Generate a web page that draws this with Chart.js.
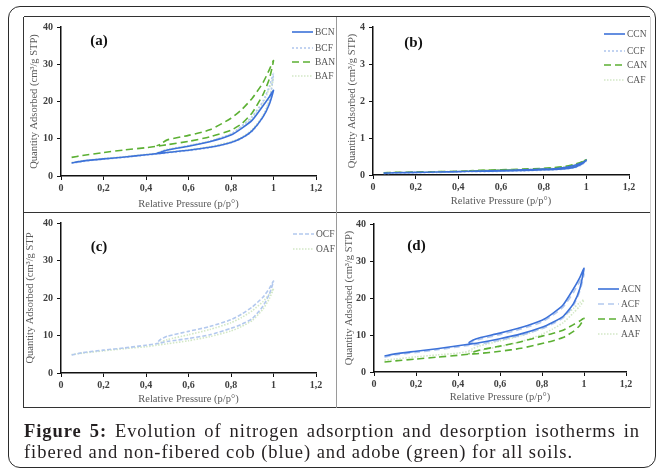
<!DOCTYPE html>
<html>
<head>
<meta charset="utf-8">
<script src="https://cdn.jsdelivr.net/npm/chart.js@4"></script>
<style>
  html, body { margin: 0; padding: 0; background: #fff; }
  body { width: 659px; height: 472px; position: relative; overflow: hidden; font-family: 'Liberation Serif', serif; }
  #frame { position: absolute; left: 8px; top: 6px; width: 646px; height: 460px; border: 1.5px solid #2b2b2b; border-radius: 12px; }
  .cell { position: absolute; }
  .cell canvas { display: block; }
  .hl { position: absolute; height: 0; border-top: 1.5px solid #333; }
  .vl { position: absolute; width: 0; border-left: 1.5px solid #333; }
  .cap { position: absolute; left: 24px; font-size: 18.5px; letter-spacing: 0.95px; color: #231f20; white-space: nowrap; }
</style>
</head>
<body>
<div id="frame"></div>
<div class="cell" style="left:24px;top:17px;width:313px;height:196px"><canvas id="pa" width="313" height="196"></canvas></div>
<div class="cell" style="left:337px;top:17px;width:313px;height:196px"><canvas id="pb" width="313" height="196"></canvas></div>
<div class="cell" style="left:24px;top:213px;width:313px;height:195px"><canvas id="pc" width="313" height="195"></canvas></div>
<div class="cell" style="left:337px;top:213px;width:313px;height:195px"><canvas id="pd" width="313" height="195"></canvas></div>
<div class="hl" style="left:24px;top:16px;width:626px"></div>
<div class="hl" style="left:24px;top:212px;width:626px"></div>
<div class="hl" style="left:24px;top:407px;width:626px"></div>
<div class="vl" style="left:23px;top:17px;height:391px"></div>
<div class="vl" style="left:336px;top:17px;height:391px;border-color:#9a9a9a"></div>
<div class="vl" style="left:650px;top:17px;height:391px;border-color:#d0d0d0;border-left-width:1px"></div>
<div class="cap" style="top:421px;width:616px;text-align:justify;text-align-last:justify"><b>Figure 5:</b> Evolution of nitrogen adsorption and desorption isotherms in</div>
<div class="cap" style="top:442px">fibered and non-fibered cob (blue) and adobe (green) for all soils.</div>
<script>
// relative pressure grid: adsorption going up, desorption coming back down
const P_ADS = [0.05, 0.1, 0.2, 0.3, 0.4, 0.45, 0.5, 0.6, 0.7, 0.8, 0.85, 0.9, 0.95, 0.98, 1.0];
const P_DES = [0.98, 0.95, 0.9, 0.85, 0.8, 0.7, 0.6, 0.5, 0.47, 0.45];
const X_TICK_LABELS = ['0', '0,2', '0,4', '0,6', '0,8', '1', '1,2'];

// (a) cob / adobe B
const BCN_ADS = [3.5, 4.0, 4.6, 5.1, 5.7, 6.0, 6.3, 6.9, 7.7, 9.0, 10.2, 12.2, 15.8, 19.2, 23.0];
const BCN_DES = [21.2, 18.8, 15.0, 12.8, 11.0, 9.2, 8.0, 7.0, 6.4, 6.1];
const BCF_ADS = [3.4, 3.9, 4.5, 5.0, 5.6, 5.9, 6.2, 6.8, 7.6, 8.9, 10.1, 12.0, 15.8, 20.0, 27.5];
const BCF_DES = [24.0, 20.0, 16.0, 13.4, 11.3, 9.3, 8.1, 7.0, 6.4, 6.0];
const BAN_ADS = [5.0, 5.5, 6.3, 7.0, 7.6, 8.0, 8.4, 9.3, 10.5, 12.3, 14.0, 17.0, 21.8, 26.0, 31.0];
const BAN_DES = [28.5, 25.0, 20.9, 17.8, 15.5, 12.4, 10.9, 9.7, 8.6, 8.1];
const BAF_ADS = [3.6, 4.1, 4.7, 5.2, 5.8, 6.1, 6.4, 7.0, 7.9, 9.2, 10.4, 12.5, 16.2, 20.5, 26.5];
const BAF_DES = [23.5, 19.5, 15.6, 13.2, 11.3, 9.4, 8.2, 7.2, 6.6, 6.2];

// (b) soil C
const CCN_ADS = [0.05, 0.06, 0.07, 0.08, 0.09, 0.1, 0.1, 0.11, 0.12, 0.14, 0.15, 0.17, 0.22, 0.3, 0.4];
const CCN_DES = [0.33, 0.27, 0.2, 0.17, 0.16, 0.14, 0.12, 0.11, 0.1, 0.1];
const CCF_ADS = [0.04, 0.05, 0.06, 0.07, 0.08, 0.09, 0.09, 0.1, 0.11, 0.13, 0.14, 0.16, 0.2, 0.28, 0.38];
const CCF_DES = [0.31, 0.25, 0.19, 0.16, 0.15, 0.13, 0.11, 0.1, 0.09, 0.09];
const CAN_ADS = [0.06, 0.07, 0.08, 0.09, 0.1, 0.11, 0.12, 0.13, 0.14, 0.16, 0.17, 0.2, 0.25, 0.33, 0.43];
const CAN_DES = [0.36, 0.3, 0.23, 0.2, 0.18, 0.16, 0.14, 0.13, 0.12, 0.11];
const CAF_ADS = [0.06, 0.07, 0.08, 0.09, 0.1, 0.1, 0.11, 0.12, 0.13, 0.15, 0.16, 0.19, 0.24, 0.32, 0.41];
const CAF_DES = [0.35, 0.29, 0.22, 0.19, 0.17, 0.15, 0.13, 0.12, 0.11, 0.1];

// (c) soil O
const OCF_ADS = [4.8, 5.4, 6.1, 6.7, 7.4, 7.8, 8.4, 9.2, 10.2, 11.9, 13.0, 14.5, 17.8, 21.0, 24.5];
const OCF_DES = [22.5, 20.2, 17.6, 15.7, 14.2, 12.4, 11.1, 9.8, 9.0, 8.0];
const OAF_ADS = [4.9, 5.3, 5.9, 6.5, 7.0, 7.4, 7.8, 8.6, 9.7, 11.2, 12.4, 14.0, 17.0, 19.8, 22.5];
const OAF_DES = [21.0, 19.0, 16.6, 14.8, 13.4, 11.6, 10.2, 8.9, 8.2, 7.6];

// (d) soil A
const ACN_ADS = [4.3, 4.9, 5.6, 6.3, 7.1, 7.5, 7.9, 9.0, 10.3, 12.1, 13.4, 15.0, 18.5, 22.5, 28.0];
const ACN_DES = [25.5, 22.5, 18.1, 15.8, 14.0, 12.0, 10.5, 9.2, 8.6, 7.9];
const ACF_ADS = [4.0, 4.6, 5.3, 6.0, 6.8, 7.2, 7.5, 8.6, 9.9, 11.7, 13.0, 14.6, 18.0, 21.8, 26.5];
const ACF_DES = [24.5, 21.5, 17.5, 15.3, 13.5, 11.6, 10.1, 8.8, 8.2, 7.5];
const AAN_ADS = [2.7, 3.0, 3.5, 4.0, 4.5, 4.8, 5.0, 5.6, 6.4, 7.7, 8.4, 9.3, 11.0, 12.6, 14.5];
const AAN_DES = [13.8, 12.8, 11.3, 10.4, 9.7, 8.2, 7.0, 5.9, 5.3, 4.9];
const AAF_ADS = [3.2, 3.5, 4.1, 4.6, 5.1, 5.5, 5.8, 6.9, 8.2, 10.2, 11.6, 13.3, 16.0, 17.8, 19.5];
const AAF_DES = [18.8, 17.2, 14.8, 13.2, 11.8, 9.8, 8.4, 7.0, 6.3, 5.7];

const BLUE = '#3d72d9';
const LBLUE = '#b3c9ee';
const GREEN = '#5cb033';
const LGREEN = '#d3e8c6';
const TICK_COLOR = '#3f3f3f';
const TITLE_COLOR = '#5a5a5a';

const STYLES = {
    CN: { borderColor: BLUE, borderWidth: 1.6, borderDash: [] },
    CF: { borderColor: LBLUE, borderWidth: 1.6, borderDash: [2, 2] },
    AN: { borderColor: GREEN, borderWidth: 1.6, borderDash: [7, 4] },
    AF: { borderColor: LGREEN, borderWidth: 1.6, borderDash: [1.5, 1.5] },
    OCF: { borderColor: LBLUE, borderWidth: 1.6, borderDash: [4, 2] },
    ACF: { borderColor: LBLUE, borderWidth: 1.6, borderDash: [6, 4] },
};

Chart.defaults.font.family = "'Liberation Serif', serif";

function loop(ads, des) {
    return P_ADS.map((p, i) => ({ x: p, y: ads[i] }))
        .concat(P_DES.map((p, i) => ({ x: p, y: des[i] })));
}

function series(label, ads, des, style) {
    return {
        label, data: loop(ads, des), showLine: true, fill: false,
        pointRadius: 0, tension: 0.2, ...style
    };
}

// panel letter + in-plot legend, drawn over the chart
const decoPlugin = {
    id: 'deco',
    afterDraw(chart, args, o) {
        const ctx = chart.ctx;
        ctx.save();
        ctx.font = "bold 15px 'Liberation Serif'";
        ctx.fillStyle = '#111';
        ctx.textAlign = 'center'; ctx.textBaseline = 'middle';
        ctx.fillText(o.label, o.lx, o.ly);
        ctx.font = "9.5px 'Liberation Serif'";
        ctx.fillStyle = '#555';
        ctx.textAlign = 'left';
        chart.data.datasets.forEach((ds, i) => {
            const y = o.legY[i];
            ctx.strokeStyle = ds.borderColor;
            ctx.lineWidth = ds.borderWidth;
            ctx.setLineDash(ds.borderDash || []);
            ctx.beginPath(); ctx.moveTo(o.legX, y); ctx.lineTo(o.legX + 21, y); ctx.stroke();
            ctx.setLineDash([]);
            ctx.fillText(ds.label, o.legX + 23, y + 0.5);
        });
        ctx.restore();
    }
};

function makePanel(id, datasets, p) {
    const ctx = document.getElementById(id).getContext('2d');
    return new Chart(ctx, {
        type: 'scatter',
        data: { datasets },
        options: {
            responsive: false, animation: false,
            layout: { padding: { left: 0, top: p.top, right: p.right, bottom: 0 } },
            plugins: { legend: { display: false }, tooltip: { enabled: false }, deco: p.deco },
            scales: {
                x: {
                    min: 0, max: 1.2,
                    afterFit: s => { s.height = p.xh; },
                    afterBuildTicks: s => { s.ticks = X_TICK_LABELS.map((_, i) => ({ value: i * 0.2 })); },
                    grid: { drawOnChartArea: false, drawTicks: true, tickLength: 4, color: '#111' },
                    border: { color: '#111', width: 1.5 },
                    ticks: { color: TICK_COLOR, padding: 2, maxRotation: 0, font: { size: 10, weight: 'bold' },
                        callback: (v, i) => X_TICK_LABELS[i] },
                    title: { display: true, text: 'Relative Pressure (p/p°)', color: TITLE_COLOR,
                        font: { size: 10.5 }, padding: { top: 0, bottom: p.xtb } }
                },
                y: {
                    min: 0, max: p.ymax,
                    afterFit: s => { s.width = p.yw; },
                    grid: { drawOnChartArea: false, drawTicks: true, tickLength: 4, color: '#111' },
                    border: { color: '#111', width: 1.5 },
                    ticks: { stepSize: p.ystep, color: TICK_COLOR, padding: 4, font: { size: 10, weight: 'bold' } },
                    title: { display: true, text: p.ytitle, color: TITLE_COLOR,
                        font: { size: 10.5 }, padding: { top: p.ytp, bottom: 0 } }
                }
            }
        },
        plugins: [decoPlugin]
    });
}

const YT = 'Quantity Adsorbed (cm³/g STP)';

makePanel('pa', [
    series('BCN', BCN_ADS, BCN_DES, STYLES.CN),
    series('BCF', BCF_ADS, BCF_DES, STYLES.CF),
    series('BAN', BAN_ADS, BAN_DES, STYLES.AN),
    series('BAF', BAF_ADS, BAF_DES, STYLES.AF),
], { top: 7.5, right: 21, xh: 37, yw: 37, ymax: 40, ystep: 10, xtb: 2.3, ytp: 3.5, ytitle: YT,
     deco: { label: '(a)', lx: 75, ly: 24, legX: 268, legY: [15, 31, 45, 59] } });

makePanel('pb', [
    series('CCN', CCN_ADS, CCN_DES, STYLES.CN),
    series('CCF', CCF_ADS, CCF_DES, STYLES.CF),
    series('CAN', CAN_ADS, CAN_DES, STYLES.AN),
    series('CAF', CAF_ADS, CAF_DES, STYLES.AF),
], { top: 9, right: 21, xh: 38, yw: 36, ymax: 4, ystep: 1, xtb: 5.3, ytp: 8.5, ytitle: YT,
     deco: { label: '(b)', lx: 76.5, ly: 26, legX: 267, legY: [17, 34, 48, 63] } });

makePanel('pc', [
    series('OCF', OCF_ADS, OCF_DES, STYLES.OCF),
    series('OAF', OAF_ADS, OAF_DES, STYLES.AF),
], { top: 9, right: 21, xh: 35, yw: 37, ymax: 40, ystep: 10, xtb: 2, ytp: 0, ytitle: 'Quantity Adsorbed (cm³/g STP',
     deco: { label: '(c)', lx: 75, ly: 34, legX: 269, legY: [21, 36] } });

makePanel('pd', [
    series('ACN', ACN_ADS, ACN_DES, STYLES.CN),
    series('ACF', ACF_ADS, ACF_DES, STYLES.ACF),
    series('AAN', AAN_ADS, AAN_DES, STYLES.AN),
    series('AAF', AAF_ADS, AAF_DES, STYLES.AF),
], { top: 11, right: 24, xh: 36, yw: 37, ymax: 40, ystep: 10, xtb: 4.3, ytp: 5.5, ytitle: YT,
     deco: { label: '(d)', lx: 79.5, ly: 33, legX: 261, legY: [76, 91, 106, 121] } });
</script>
</body>
</html>
